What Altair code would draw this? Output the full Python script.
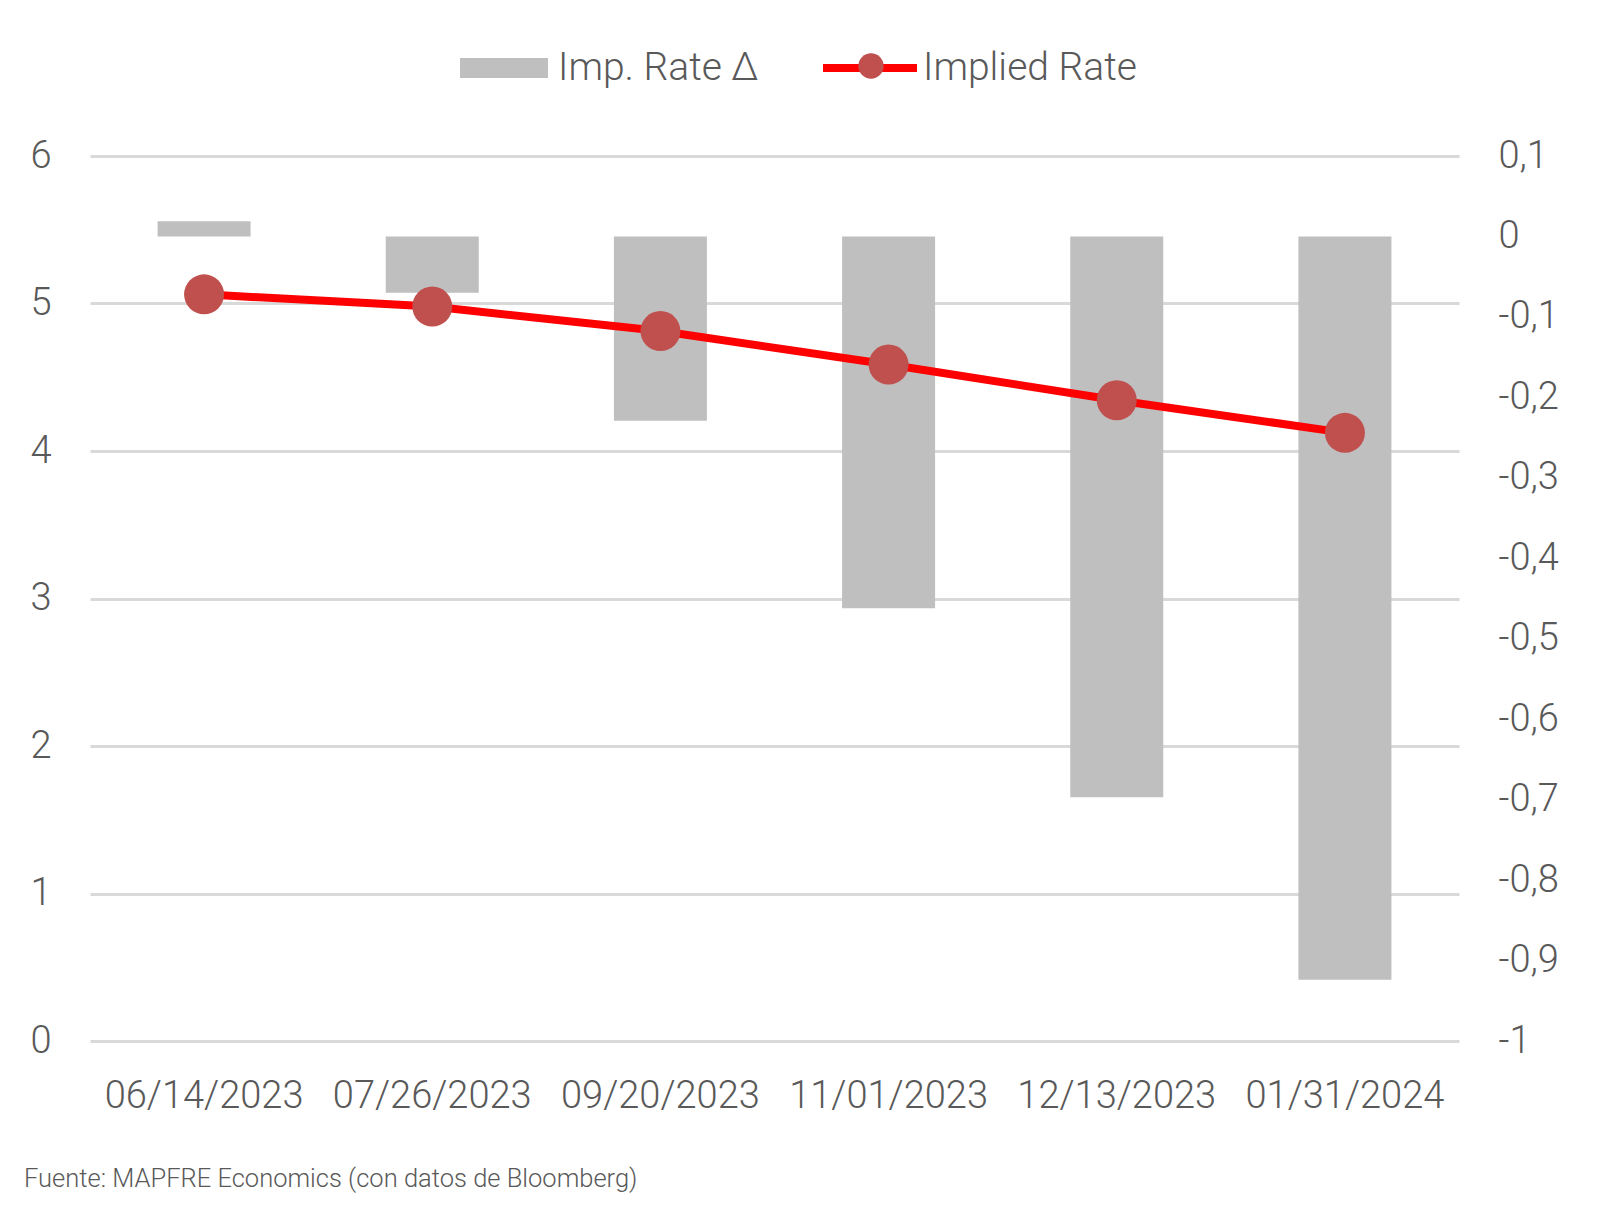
import altair as alt
import pandas as pd

dates = ["06/14/2023", "07/26/2023", "09/20/2023", "11/01/2023", "12/13/2023", "01/31/2024"]
rate_delta = [0.019, -0.070, -0.229, -0.462, -0.697, -0.924]
implied_rate = [5.062, 4.979, 4.813, 4.586, 4.344, 4.123]

bar_name = "Imp. Rate \u0394"
line_name = "Implied Rate"
marker_name = "marker"

df = pd.DataFrame({
    "date": dates,
    "delta": rate_delta,
    "rate": implied_rate,
    "bar_series": [bar_name] * len(dates),
    "line_series": [line_name] * len(dates),
    "point_series": [marker_name] * len(dates),
})

FONT = "Roboto"
TXT = "#595959"

x_enc = alt.X(
    "date:N", sort=dates, title=None,
    scale=alt.Scale(paddingInner=0, paddingOuter=0),
    axis=alt.Axis(labelAngle=0, labelFontSize=38, labelColor=TXT, labelFont=FONT,
                  labelFontWeight=300, ticks=False, domain=False, labelPadding=36,
                  labelLimit=0, grid=False),
)

bars = alt.Chart(df).mark_bar(size=93).encode(
    x=x_enc,
    y=alt.Y("delta:Q", title=None,
            scale=alt.Scale(domain=[-1, 0.1], nice=False, zero=False),
            axis=alt.Axis(orient="right", values=[round(-1 + 0.1 * i, 1) for i in range(12)],
                          labelExpr="replace(replace(format(datum.value, '.1~f'), '.', ','), '\u2212', '-')",
                          labelFontSize=38, labelColor=TXT, labelFont=FONT, labelFontWeight=300,
                          ticks=False, domain=False, grid=False, labelPadding=39)),
    color=alt.Color("bar_series:N", title=None,
                    scale=alt.Scale(domain=[bar_name], range=["#BFBFBF"]),
                    legend=alt.Legend(orient="none", legendX=370, legendY=-132, padding=0,
                                      symbolType="M-1,-0.23L1,-0.23L1,0.23L-1,0.23Z",
                                      symbolSize=7744, symbolStrokeWidth=0, labelLimit=0,
                                      labelFontSize=39, labelColor=TXT, labelFont=FONT,
                                      labelFontWeight=300, labelOffset=10)),
)

line = alt.Chart(df).mark_line(strokeWidth=8).encode(
    x=x_enc,
    y=alt.Y("rate:Q", title=None,
            scale=alt.Scale(domain=[0, 6], nice=False),
            axis=alt.Axis(orient="left", values=[0, 1, 2, 3, 4, 5, 6], labelFontSize=38,
                          labelColor=TXT, labelFont=FONT, labelFontWeight=300,
                          ticks=False, domain=False, grid=True, gridColor="#D9D9D9",
                          gridWidth=3, labelPadding=39)),
    stroke=alt.Stroke("line_series:N", title=None,
                      scale=alt.Scale(domain=[line_name], range=["#FF0000"]),
                      legend=alt.Legend(orient="none", legendX=729, legendY=-139, padding=0,
                                        symbolType="M-1,0L1,0", symbolSize=8836,
                                        symbolStrokeWidth=8, labelLimit=0,
                                        labelFontSize=39, labelColor=TXT, labelFont=FONT,
                                        labelFontWeight=300, labelOffset=2)),
)

points = alt.Chart(df).mark_circle(size=1600, opacity=1).encode(
    x=x_enc,
    y=alt.Y("rate:Q", scale=alt.Scale(domain=[0, 6], nice=False), axis=None),
    fill=alt.Fill("point_series:N", title=None,
                  scale=alt.Scale(domain=[marker_name], range=["#C0504D"]),
                  legend=alt.Legend(orient="none", legendX=768, legendY=-103, padding=0,
                                    symbolType="circle", symbolSize=640, symbolOpacity=1,
                                    symbolStrokeWidth=0, labelExpr="''",
                                    labelFontSize=1, labelOffset=0)),
)

chart = alt.layer(bars, line, points).resolve_scale(y="independent").properties(
    width=1369, height=885,
    autosize=alt.AutoSizeParams(type="none"),
    padding={"left": 90, "top": 156, "right": 139, "bottom": 173},
    view=alt.ViewBackground(stroke="transparent", strokeWidth=0),
    title=alt.TitleParams("Fuente: MAPFRE Economics (con datos de Bloomberg)",
                          orient="bottom", anchor="start", frame="group",
                          fontSize=25.5, color=TXT, font=FONT, fontWeight=300,
                          offset=52, dx=-66),
).configure_view(strokeWidth=0, stroke="transparent").configure_axis(
    domain=False
).configure(background="white")

chart.save("out.html", embed_options={"renderer": "svg", "actions": False})
